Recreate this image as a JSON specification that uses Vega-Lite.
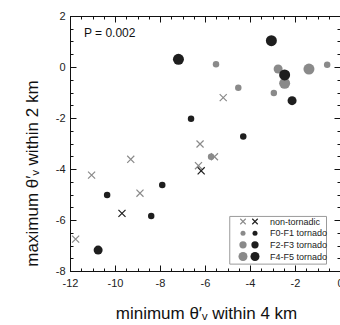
{
  "$schema": "https://vega.github.io/schema/vega-lite/v6.json",
  "width": 270,
  "height": 255,
  "autosize": {"type": "none"},
  "padding": {"left": 70, "top": 16, "right": 0, "bottom": 54},
  "background": "white",
  "config": {
    "view": {"stroke": null},
    "font": "Liberation Sans",
    "axis": {
      "grid": false,
      "domainColor": "#111111",
      "tickColor": "#111111",
      "labelColor": "#222222",
      "labelFont": "Liberation Sans",
      "labelFontSize": 11,
      "titleFont": "Liberation Sans",
      "titleFontWeight": "normal",
      "titleColor": "#111111"
    }
  },
  "datasets": {
    "points": [
      {"x": -9.30, "y": -3.62, "category": "non-tornadic", "shade": "light"},
      {"x": -11.04, "y": -4.24, "category": "non-tornadic", "shade": "light"},
      {"x": -8.89, "y": -4.95, "category": "non-tornadic", "shade": "light"},
      {"x": -11.75, "y": -6.75, "category": "non-tornadic", "shade": "light"},
      {"x": -5.19, "y": -1.20, "category": "non-tornadic", "shade": "light"},
      {"x": -6.22, "y": -3.02, "category": "non-tornadic", "shade": "light"},
      {"x": -5.58, "y": -3.52, "category": "non-tornadic", "shade": "light"},
      {"x": -6.29, "y": -3.87, "category": "non-tornadic", "shade": "light"},
      {"x": -5.51, "y": 0.11, "category": "F0-F1 tornado", "shade": "light"},
      {"x": -4.52, "y": -0.81, "category": "F0-F1 tornado", "shade": "light"},
      {"x": -5.73, "y": -3.52, "category": "F0-F1 tornado", "shade": "light"},
      {"x": -0.57, "y": 0.09, "category": "F0-F1 tornado", "shade": "light"},
      {"x": -2.94, "y": -1.02, "category": "F0-F1 tornado", "shade": "light"},
      {"x": -2.75, "y": -0.08, "category": "F2-F3 tornado", "shade": "light"},
      {"x": -1.38, "y": -0.08, "category": "F4-F5 tornado", "shade": "light"},
      {"x": -2.46, "y": -0.64, "category": "F4-F5 tornado", "shade": "light"},
      {"x": -10.35, "y": -5.02, "category": "F0-F1 tornado", "shade": "dark"},
      {"x": -7.90, "y": -4.63, "category": "F0-F1 tornado", "shade": "dark"},
      {"x": -8.39, "y": -5.84, "category": "F0-F1 tornado", "shade": "dark"},
      {"x": -6.62, "y": -2.03, "category": "F0-F1 tornado", "shade": "dark"},
      {"x": -4.30, "y": -2.73, "category": "F0-F1 tornado", "shade": "dark"},
      {"x": -2.13, "y": -1.32, "category": "F2-F3 tornado", "shade": "dark"},
      {"x": -10.75, "y": -7.18, "category": "F2-F3 tornado", "shade": "dark"},
      {"x": -7.18, "y": 0.30, "category": "F4-F5 tornado", "shade": "dark"},
      {"x": -3.05, "y": 1.03, "category": "F4-F5 tornado", "shade": "dark"},
      {"x": -2.46, "y": -0.31, "category": "F4-F5 tornado", "shade": "dark"},
      {"x": -9.69, "y": -5.74, "category": "non-tornadic", "shade": "dark"},
      {"x": -6.17, "y": -4.07, "category": "non-tornadic", "shade": "dark"}
    ],
    "legend": [
      {"category": "non-tornadic", "shade": "light"},
      {"category": "non-tornadic", "shade": "dark"},
      {"category": "F0-F1 tornado", "shade": "light"},
      {"category": "F0-F1 tornado", "shade": "dark"},
      {"category": "F2-F3 tornado", "shade": "light"},
      {"category": "F2-F3 tornado", "shade": "dark"},
      {"category": "F4-F5 tornado", "shade": "light"},
      {"category": "F4-F5 tornado", "shade": "dark"}
    ]
  },
  "layer": [
    {
      "layer": [
        {
          "data": {"name": "points"},
          "transform": [{"filter": "datum.category != 'non-tornadic'"}],
          "mark": {"type": "point", "filled": true, "shape": "circle", "opacity": 1},
          "encoding": {
            "x": {
              "field": "x", "type": "quantitative",
              "scale": {"domain": [-12, 0], "nice": false, "zero": false},
              "axis": {
                "orient": "bottom", "values": [-12, -10, -8, -6, -4, -2, 0],
                "tickSize": -6, "labelPadding": 12, "labelExpr": "'' + datum.value",
                "labelFlush": false, "labelOverlap": false, "labelBound": false,
                "title": "minimum θ′ᵥ  within 4 km", "titleFontSize": 17,
                "titleX": 136, "titleY": 42, "titleBaseline": "middle"
              }
            },
            "y": {
              "field": "y", "type": "quantitative",
              "scale": {"domain": [-8, 2], "nice": false, "zero": false},
              "axis": {
                "orient": "left", "values": [-8, -6, -4, -2, 0, 2],
                "tickSize": -6, "labelPadding": 11, "labelExpr": "'' + datum.value",
                "labelFlush": false, "labelOverlap": false, "labelBound": false,
                "title": "maximum θ′ᵥ  within 2 km", "titleFontSize": 17,
                "titleX": -38, "titleY": 157, "titleBaseline": "middle", "titleAngle": -90
              }
            },
            "color": {
              "field": "shade", "type": "nominal", "legend": null,
              "scale": {"domain": ["light", "dark"], "range": ["#8a8a8a", "#1e1e1e"]}
            },
            "size": {
              "field": "category", "type": "nominal", "legend": null,
              "scale": {"domain": ["F0-F1 tornado", "F2-F3 tornado", "F4-F5 tornado"], "range": [42, 121, 300]}
            }
          }
        },
        {
          "data": {"name": "points"},
          "transform": [{"filter": "datum.category == 'non-tornadic'"}],
          "mark": {"type": "point", "filled": false, "shape": "M-1,-1L1,1M-1,1L1,-1", "size": 50, "strokeWidth": 1.2, "opacity": 1},
          "encoding": {
            "x": {
              "field": "x", "type": "quantitative",
              "axis": {
                "orient": "bottom",
                "values": [-12, -11.5, -11, -10.5, -10, -9.5, -9, -8.5, -8, -7.5, -7, -6.5, -6, -5.5, -5, -4.5, -4, -3.5, -3, -2.5, -2, -1.5, -1, -0.5, 0],
                "tickSize": -3, "labels": false, "domain": false, "title": null
              }
            },
            "y": {
              "field": "y", "type": "quantitative",
              "axis": {
                "orient": "left",
                "values": [-8, -7.5, -7, -6.5, -6, -5.5, -5, -4.5, -4, -3.5, -3, -2.5, -2, -1.5, -1, -0.5, 0, 0.5, 1, 1.5, 2],
                "tickSize": -3, "labels": false, "domain": false, "title": null
              }
            },
            "color": {"field": "shade", "type": "nominal", "legend": null}
          }
        },
        {
          "data": {"values": [{"note": "P = 0.002"}]},
          "mark": {"type": "text", "align": "left", "baseline": "middle", "fontSize": 12, "color": "#111111"},
          "encoding": {
            "x": {
              "datum": -11.38, "type": "quantitative",
              "axis": {"orient": "top", "values": [-12, -10, -8, -6, -4, -2, 0], "tickSize": -6, "labels": false, "title": null}
            },
            "y": {
              "datum": 1.35, "type": "quantitative",
              "axis": {"orient": "right", "values": [-8, -6, -4, -2, 0, 2], "tickSize": -6, "labels": false, "title": null}
            },
            "text": {"field": "note"}
          }
        },
        {
          "data": {"values": [{"box": "legend"}]},
          "mark": {"type": "rect", "fill": "white", "stroke": "#9a9a9a", "strokeWidth": 1},
          "encoding": {
            "x": {
              "datum": -4.9, "type": "quantitative",
              "axis": {
                "orient": "top",
                "values": [-12, -11.5, -11, -10.5, -10, -9.5, -9, -8.5, -8, -7.5, -7, -6.5, -6, -5.5, -5, -4.5, -4, -3.5, -3, -2.5, -2, -1.5, -1, -0.5, 0],
                "tickSize": -3, "labels": false, "domain": false, "title": null
              }
            },
            "x2": {"datum": -0.6},
            "y": {
              "datum": -5.86, "type": "quantitative",
              "axis": {
                "orient": "right",
                "values": [-8, -7.5, -7, -6.5, -6, -5.5, -5, -4.5, -4, -3.5, -3, -2.5, -2, -1.5, -1, -0.5, 0, 0.5, 1, 1.5, 2],
                "tickSize": -3, "labels": false, "domain": false, "title": null
              }
            },
            "y2": {"datum": -7.73}
          }
        }
      ],
      "resolve": {"axis": {"x": "independent", "y": "independent"}}
    },
    {
      "data": {"name": "legend"},
      "encoding": {
        "x": {
          "field": "shade", "type": "nominal", "axis": null,
          "scale": {"type": "point", "domain": ["light", "dark"], "range": [173, 185], "padding": 0}
        },
        "y": {
          "field": "category", "type": "nominal", "axis": null,
          "scale": {"type": "point", "domain": ["non-tornadic", "F0-F1 tornado", "F2-F3 tornado", "F4-F5 tornado"], "range": [205.5, 240.5], "padding": 0}
        }
      },
      "layer": [
        {
          "transform": [{"filter": "datum.category != 'non-tornadic'"}],
          "mark": {"type": "point", "filled": true, "shape": "circle", "opacity": 1},
          "encoding": {
            "color": {"field": "shade", "type": "nominal", "legend": null},
            "size": {
              "field": "category", "type": "nominal", "legend": null,
              "scale": {"domain": ["F0-F1 tornado", "F2-F3 tornado", "F4-F5 tornado"], "range": [25, 81, 144]}
            }
          }
        },
        {
          "transform": [{"filter": "datum.category == 'non-tornadic'"}],
          "mark": {"type": "point", "filled": false, "shape": "M-1,-1L1,1M-1,1L1,-1", "size": 30, "strokeWidth": 1.1, "opacity": 1},
          "encoding": {
            "color": {"field": "shade", "type": "nominal", "legend": null}
          }
        },
        {
          "transform": [{"filter": "datum.shade == 'dark'"}],
          "mark": {"type": "text", "align": "left", "baseline": "middle", "dx": 15, "fontSize": 9, "color": "#222222"},
          "encoding": {"text": {"field": "category"}}
        }
      ]
    }
  ],
  "resolve": {
    "scale": {"x": "independent", "y": "independent", "size": "independent"},
    "axis": {"x": "independent", "y": "independent"}
  }
}
